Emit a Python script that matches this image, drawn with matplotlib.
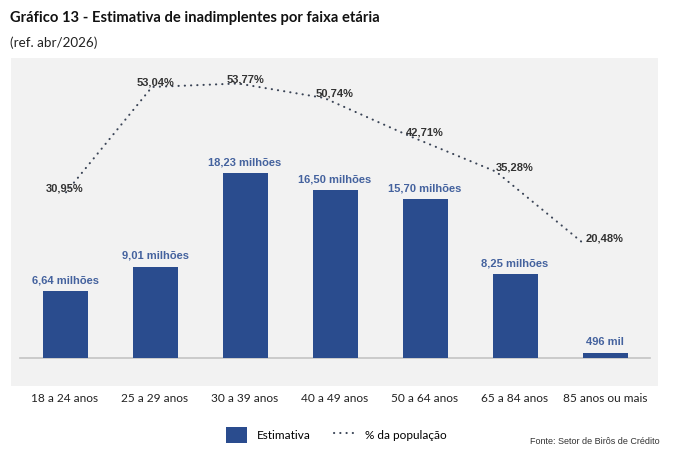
import numpy as np
import matplotlib
matplotlib.use("Agg")
import matplotlib.pyplot as plt
from matplotlib.patches import Rectangle
from matplotlib.lines import Line2D
from matplotlib.transforms import blended_transform_factory

# data
faixas = ["18 a 24 anos", "25 a 29 anos", "30 a 39 anos", "40 a 49 anos",
          "50 a 64 anos", "65 a 84 anos", "85 anos ou mais"]
estimativa = [6.64, 9.01, 18.23, 16.50, 15.70, 8.25, 0.496]  # milhões
estimativa_txt = ["6,64 milhões", "9,01 milhões", "18,23 milhões", "16,50 milhões",
                  "15,70 milhões", "8,25 milhões", "496 mil"]
pct_pop = [30.95, 53.04, 53.77, 50.74, 42.71, 35.28, 20.48]

BAR_COLOR = "#2a4c8e"
BAR_LABEL = "#44629e"
LINE_COLOR = "#3a4456"
PANEL = "#f2f2f2"
DOTS = (0, (0.1, 2.9))

W, H = 675, 476
fig = plt.figure(figsize=(W / 100, H / 100), dpi=100)
fig.patch.set_facecolor("white")


def fx(px):
    return px / W


def fy(py):
    # py measured from top
    return 1 - py / H


# gray panel behind the chart
fig.patches.append(Rectangle((fx(11), fy(386)), fx(658 - 11), (386 - 58) / H,
                             transform=fig.transFigure, facecolor=PANEL,
                             edgecolor="none", zorder=-1))

ax_rect = [fx(20), fy(358), fx(630), (358 - 70) / H]
ax = fig.add_axes(ax_rect)
ax.patch.set_visible(False)
x = np.arange(len(faixas))
ax.bar(x, estimativa, width=0.5, color=BAR_COLOR, zorder=3)
ax.set_xlim(-0.5, len(faixas) - 0.5)
ax.set_ylim(0, 28.37)
for s in ["top", "right", "left"]:
    ax.spines[s].set_visible(False)
ax.spines["bottom"].set_color("#c4c4c4")
ax.spines["bottom"].set_linewidth(1.2)
ax.set_yticks([])
ax.set_xticks(x)
ax.set_xticklabels(faixas, family="Lato", fontsize=8.6, color="#222222")
ax.tick_params(axis="x", length=0, pad=25)

for xi, v, t in zip(x, estimativa, estimativa_txt):
    ax.annotate(t, (xi, v), xytext=(0, 4), textcoords="offset points",
                ha="center", va="bottom", fontsize=8, fontweight="bold",
                color=BAR_LABEL, family="Liberation Sans", zorder=4)

# line for % da população (overlay axes, slightly different horizontal scale)
ax2 = fig.add_axes(ax_rect)
ax2.patch.set_visible(False)
ax2.axis("off")
ax2.set_xlim(-0.535, 6.79)
ax2.set_ylim(-3.8, 56.6)
ax2.plot(x, pct_pop, linestyle=DOTS, lw=1.5, color=LINE_COLOR,
         dash_capstyle="round", zorder=5)

tr = blended_transform_factory(ax.transData, ax2.transData)
for xi, v in zip(x, pct_pop):
    lbl = f"{v:.2f}%".replace(".", ",")
    ax2.annotate(lbl, (xi, v), xycoords=tr, xytext=(0, 3), textcoords="offset points",
                 ha="center", va="center", fontsize=8, fontweight="bold",
                 color="#333333", family="Liberation Sans", zorder=6)

# titles
fig.text(fx(10), fy(18), "Gráfico 13 - Estimativa de inadimplentes por faixa etária",
         family="Lato", fontweight="bold", fontsize=10.6, ha="left", va="center",
         color="#111111")
fig.text(fx(10), fy(43), "(ref. abr/2026)", family="Lato", fontsize=9.7,
         ha="left", va="center", color="#222222")

# legend
handles = [Rectangle((0, 0), 1, 1, facecolor=BAR_COLOR, edgecolor="none"),
           Line2D([], [], linestyle=DOTS, lw=1.5, color=LINE_COLOR,
                  dash_capstyle="round")]
fig.legend(handles, ["Estimativa", "% da população"], loc="center",
           bbox_to_anchor=(fx(336), fy(435)), ncol=2, frameon=False,
           prop={"family": "Lato", "size": 8.5}, handlelength=1.8,
           handleheight=1.8, columnspacing=2.0, handletextpad=0.8)

fig.text(fx(660), fy(442), "Fonte: Setor de Birôs de Crédito", family="Liberation Sans",
         fontsize=6.5, ha="right", va="center", color="#333333")

fig.savefig("out.png", dpi=100, facecolor="white")
